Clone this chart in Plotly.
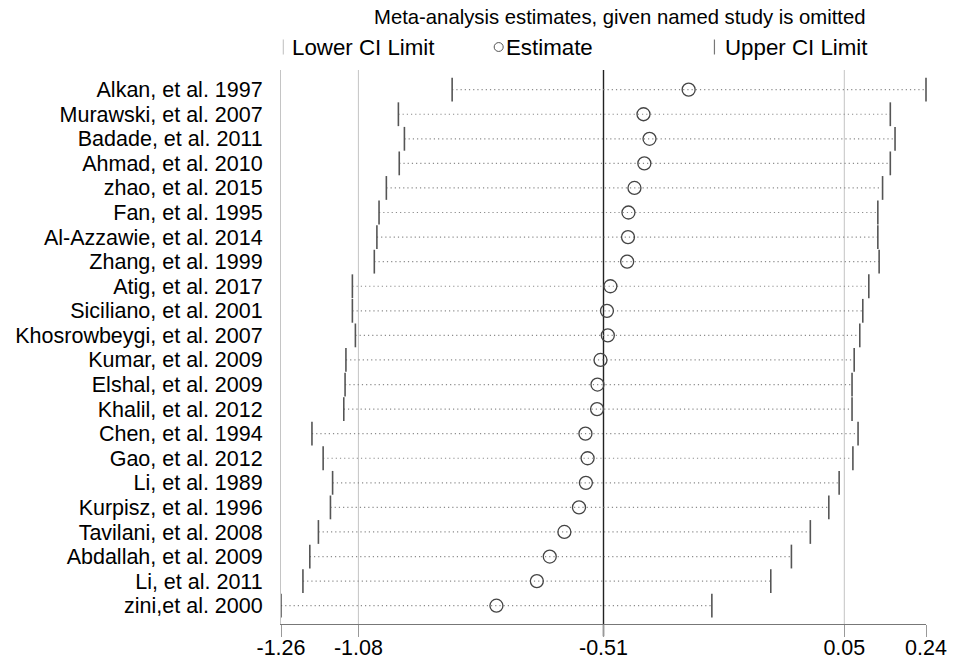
import plotly.graph_objects as go

studies = [
    "Alkan, et al. 1997", "Murawski, et al. 2007", "Badade, et al. 2011",
    "Ahmad, et al. 2010", "zhao, et al. 2015", "Fan, et al. 1995",
    "Al-Azzawie, et al. 2014", "Zhang, et al. 1999", "Atig, et al. 2017",
    "Siciliano, et al. 2001", "Khosrowbeygi, et al. 2007", "Kumar, et al. 2009",
    "Elshal, et al. 2009", "Khalil, et al. 2012", "Chen, et al. 1994",
    "Gao, et al. 2012", "Li, et al. 1989", "Kurpisz, et al. 1996",
    "Tavilani, et al. 2008", "Abdallah, et al. 2009", "Li, et al. 2011",
    "zini,et al. 2000",
]
lower = [-0.862, -0.987, -0.973, -0.985, -1.015, -1.032, -1.037, -1.043,
         -1.094, -1.094, -1.087, -1.109, -1.111, -1.114, -1.188, -1.162,
         -1.140, -1.145, -1.173, -1.193, -1.209, -1.260]
estimate = [-0.312, -0.417, -0.403, -0.415, -0.438, -0.452, -0.453, -0.455,
            -0.494, -0.502, -0.500, -0.517, -0.524, -0.525, -0.552, -0.547,
            -0.551, -0.567, -0.601, -0.635, -0.665, -0.759]
upper = [0.240, 0.157, 0.168, 0.157, 0.139, 0.128, 0.128, 0.131,
         0.107, 0.093, 0.086, 0.073, 0.068, 0.068, 0.082, 0.070,
         0.038, 0.014, -0.029, -0.073, -0.121, -0.258]
x_ticks = [-1.26, -1.08, -0.51, 0.05, 0.24]
x_ticktext = ["-1.26", "-1.08", "-0.51", "0.05", "0.24"]
grid_lines = [-1.08, 0.05]
overall = -0.51

FONT = "Liberation Sans, Arial, sans-serif"
pos = list(range(1, len(studies) + 1))

# dotted connector lines
lx, ly = [], []
for lo, hi, p in zip(lower, upper, pos):
    lx += [lo, hi, None]
    ly += [p, p, None]

fig = go.Figure()
fig.add_trace(go.Scatter(x=lx, y=ly, mode="lines",
                         line=dict(color="#8c8c8c", width=1.2, dash="1.2px,3px"),
                         hoverinfo="skip", showlegend=False, cliponaxis=False))
fig.add_trace(go.Scatter(x=lower, y=pos, mode="markers", name="Lower CI Limit",
                         marker=dict(symbol="line-ns", size=17,
                                     line=dict(color="#555555", width=1.6)),
                         showlegend=False, cliponaxis=False))
fig.add_trace(go.Scatter(x=upper, y=pos, mode="markers", name="Upper CI Limit",
                         marker=dict(symbol="line-ns", size=17,
                                     line=dict(color="#555555", width=1.6)),
                         showlegend=False, cliponaxis=False))
fig.add_trace(go.Scatter(x=estimate, y=pos, mode="markers", name="Estimate",
                         marker=dict(symbol="circle-open", size=13, color="#444444",
                                     line=dict(color="#444444", width=1.3)),
                         showlegend=False, cliponaxis=False))

shapes = []
for g in grid_lines:
    shapes.append(dict(type="line", xref="x", yref="paper", x0=g, x1=g, y0=0, y1=1,
                       line=dict(color="#c4c4c4", width=1), layer="below"))
shapes.append(dict(type="line", xref="x", yref="paper", x0=overall, x1=overall,
                   y0=-0.022, y1=1, line=dict(color="#222222", width=1.4), layer="below"))
# legend symbols
shapes.append(dict(type="line", xref="paper", yref="paper", x0=0.0036, x1=0.0036,
                   y0=1.028, y1=1.055, line=dict(color="#c8c8c8", width=1.2)))
shapes.append(dict(type="line", xref="paper", yref="paper", x0=0.672, x1=0.672,
                   y0=1.028, y1=1.055, line=dict(color="#777777", width=1.2)))
shapes.append(dict(type="circle", xref="paper", yref="paper",
                   x0=0.3305, x1=0.3445, y0=1.0335, y1=1.0495,
                   line=dict(color="#555555", width=1)))

legend_font = dict(family=FONT, size=22.3, color="#000000")
annotations = [
    dict(text="Meta-analysis estimates, given named study is omitted", xref="paper",
         yref="paper", x=0.141, y=1.0957, xanchor="left", yanchor="middle",
         showarrow=False, font=dict(family=FONT, size=20.3, color="#000000")),
    dict(text="Lower CI Limit", xref="paper", yref="paper", x=0.0135, y=1.0415,
         xanchor="left", yanchor="middle", showarrow=False, font=legend_font),
    dict(text="Estimate", xref="paper", yref="paper", x=0.3455, y=1.0415,
         xanchor="left", yanchor="middle", showarrow=False, font=legend_font),
    dict(text="Upper CI Limit", xref="paper", yref="paper", x=0.686, y=1.0415,
         xanchor="left", yanchor="middle", showarrow=False, font=legend_font),
]

fig.update_layout(
    width=956, height=663,
    margin=dict(l=281, r=30, t=70, b=39),
    paper_bgcolor="white", plot_bgcolor="white",
    shapes=shapes, annotations=annotations,
    font=dict(family=FONT, size=21, color="#000000"),
    showlegend=False,
)
fig.update_xaxes(range=[-1.26, 0.24], tickvals=x_ticks, ticktext=x_ticktext,
                 showgrid=False, zeroline=False, showline=True, automargin=False,
                 linecolor="#777777", linewidth=1, ticks="outside", ticklen=12,
                 tickcolor="#999999", tickwidth=1, ticklabelstandoff=-8,
                 tickfont=dict(family=FONT, size=21.5, color="#000000"))
fig.update_yaxes(range=[22.745, 0.2], tickvals=pos, ticktext=studies,
                 showgrid=False, zeroline=False, showline=True, automargin=False,
                 linecolor="#c4c4c4", linewidth=1, ticks="", ticklabelstandoff=13,
                 tickfont=dict(family=FONT, size=21.5, color="#000000"))

fig.write_html("out.html")
